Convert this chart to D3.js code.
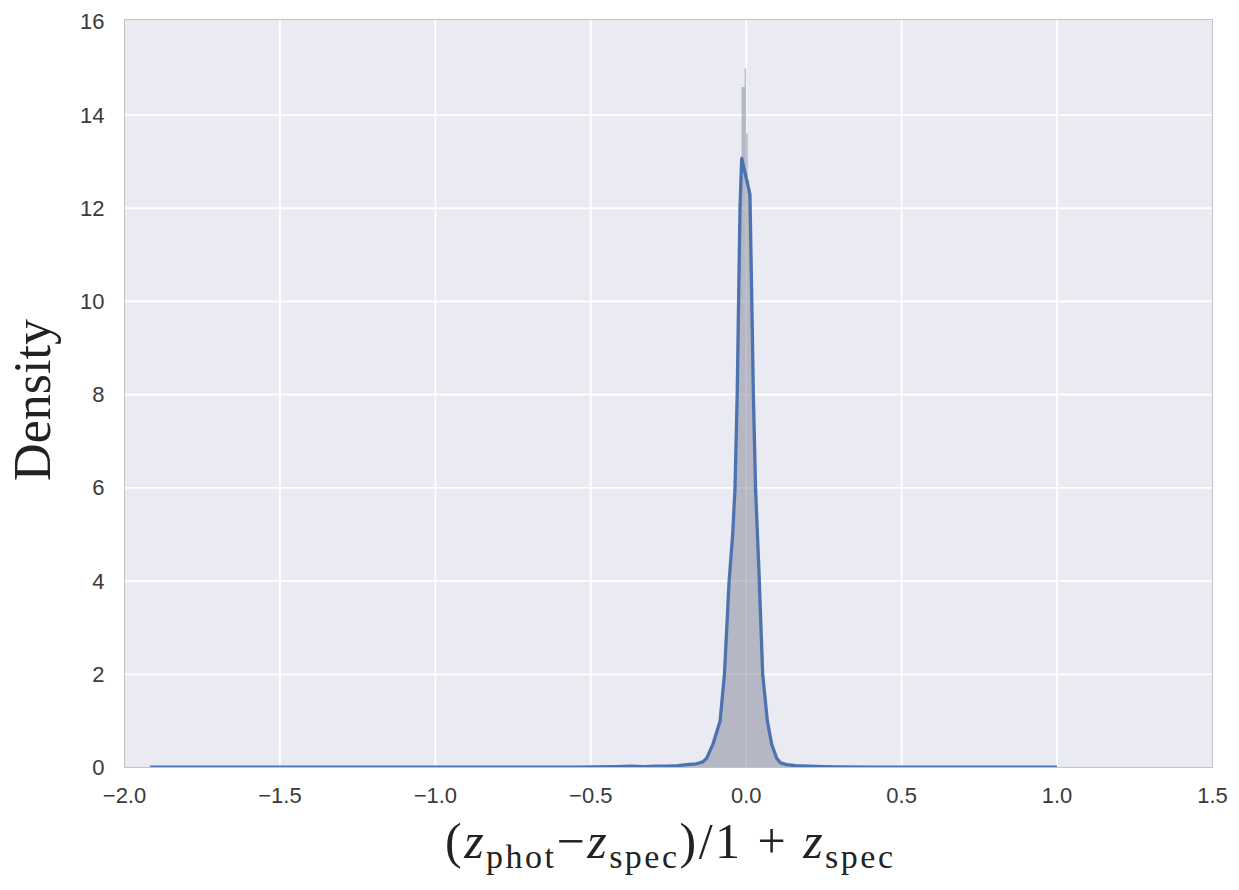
<!DOCTYPE html>
<html>
<head>
<meta charset="utf-8">
<script src="https://cdn.jsdelivr.net/npm/d3@7"></script>
<style>
  html, body { margin: 0; padding: 0; background: #ffffff; }
  svg { display: block; }
</style>
</head>
<body>
<svg id="chart" width="1239" height="890"></svg>
<script>
// Tick positions on both axes
const xTicks = [-2.0, -1.5, -1.0, -0.5, 0.0, 0.5, 1.0, 1.5];
const yTicks = [0, 2, 4, 6, 8, 10, 12, 14, 16];

// Normalised histogram of (z_phot - z_spec)/(1 + z_spec): first bin edge, bin width, densities
const histBinStart = -0.200;
const histBinWidth = 0.005;
const histDensity = [
  0.04, 0.03, 0.05, 0.04, 0.06, 0.05, 0.07, 0.08, 0.08, 0.10,
  0.11, 0.12, 0.15, 0.17, 0.22, 0.27, 0.33, 0.40, 0.47, 0.58,
  0.68, 0.80, 0.92, 1.10, 1.35, 1.70, 2.20, 2.80, 3.40, 4.00,
  4.50, 5.00, 5.60, 6.50, 8.00, 10.2, 12.3, 14.6, 14.6, 15.0,
  13.6, 12.6, 11.8, 10.0, 8.50, 7.20, 6.00, 5.00, 4.20, 3.30,
  2.40, 1.80, 1.40, 1.10, 0.85, 0.65, 0.50, 0.38, 0.28, 0.20,
  0.15, 0.11, 0.09, 0.07, 0.06, 0.05, 0.05, 0.04, 0.03, 0.03
];

// Kernel density estimate: evaluation points and density values
const kdeX = [
  -1.918, -1.60, -1.20, -0.80, -0.55, -0.42, -0.37, -0.33, -0.29, -0.25,
  -0.22, -0.19, -0.16, -0.14, -0.127, -0.107, -0.084, -0.070, -0.055, -0.0435,
  -0.036, -0.029, -0.020, -0.0145, 0.012, 0.018, 0.023, 0.030, 0.041, 0.053,
  0.068, 0.082, 0.098, 0.110, 0.130, 0.160, 0.200, 0.250, 0.300, 0.400,
  0.600, 0.800, 1.000
];
const kdeY = [
  0.010, 0.005, 0.005, 0.005, 0.010, 0.020, 0.030, 0.020, 0.030, 0.030,
  0.040, 0.060, 0.080, 0.120, 0.20, 0.50, 1.00, 2.00, 4.00, 5.00,
  6.00, 8.00, 12.0, 13.07, 12.3, 10.0, 8.00, 6.00, 4.20, 2.00,
  1.00, 0.50, 0.20, 0.10, 0.060, 0.040, 0.030, 0.020, 0.015, 0.010,
  0.005, 0.005, 0.010
];

const svg = d3.select("#chart");
const plot = { left: 124.5, top: 19.5, right: 1212.5, bottom: 767.5 };

const x = d3.scaleLinear().domain([-2.0, 1.5]).range([plot.left, plot.right]);
const y = d3.scaleLinear().domain([0, 16.05]).range([plot.bottom, plot.top]);

// Axes background
svg.append("rect")
  .attr("x", plot.left).attr("y", plot.top)
  .attr("width", plot.right - plot.left).attr("height", plot.bottom - plot.top)
  .attr("fill", "#eaeaf2");

svg.append("clipPath").attr("id", "plot-clip")
  .append("rect")
  .attr("x", plot.left).attr("y", plot.top)
  .attr("width", plot.right - plot.left).attr("height", plot.bottom - plot.top);

// White grid lines
const grid = svg.append("g").attr("stroke", "#ffffff").attr("stroke-width", 1.8);
grid.selectAll("line.gx").data(xTicks.slice(1, -1)).join("line")
  .attr("x1", d => x(d)).attr("x2", d => x(d))
  .attr("y1", plot.top).attr("y2", plot.bottom);
grid.selectAll("line.gy").data(yTicks.slice(1, -1)).join("line")
  .attr("x1", plot.left).attr("x2", plot.right)
  .attr("y1", d => y(d)).attr("y2", d => y(d));

const layer = svg.append("g").attr("clip-path", "url(#plot-clip)");

// Histogram drawn as one stepped outline so adjacent bins do not leave seams
const bins = histDensity.map((h, i) => ({
  x0: histBinStart + i * histBinWidth,
  x1: histBinStart + (i + 1) * histBinWidth,
  h: h
}));
const histPath = d3.path();
histPath.moveTo(x(bins[0].x0), y(0));
bins.forEach(b => {
  histPath.lineTo(x(b.x0), y(b.h));
  histPath.lineTo(x(b.x1), y(b.h));
});
histPath.lineTo(x(bins[bins.length - 1].x1), y(0));
histPath.closePath();
layer.append("path")
  .attr("d", histPath.toString())
  .attr("fill", "#7f8596")
  .attr("fill-opacity", 0.5)
  .attr("stroke", "none");

// KDE curve
const kdeLine = d3.line()
  .x(d => x(d[0]))
  .y(d => y(d[1]));
layer.append("path")
  .datum(kdeX.map((v, i) => [v, kdeY[i]]))
  .attr("d", kdeLine)
  .attr("fill", "none")
  .attr("stroke", "#4c72b0")
  .attr("stroke-width", 3.3)
  .attr("stroke-linejoin", "round");

// Thin frame round the axes
svg.append("rect")
  .attr("x", plot.left).attr("y", plot.top)
  .attr("width", plot.right - plot.left).attr("height", plot.bottom - plot.top)
  .attr("fill", "none").attr("stroke", "#c4c4c8").attr("stroke-width", 1);

// Tick labels
const tickFont = "'Liberation Sans', Arial, sans-serif";
const fmtX = d3.format(".1f");
svg.append("g").selectAll("text").data(xTicks).join("text")
  .attr("x", d => x(d)).attr("y", 803)
  .attr("text-anchor", "middle")
  .attr("font-family", tickFont).attr("font-size", 22)
  .attr("fill", "#3a3a3a")
  .text(d => fmtX(d));
svg.append("g").selectAll("text").data(yTicks).join("text")
  .attr("x", plot.left - 20).attr("y", d => y(d))
  .attr("dy", "0.34em")
  .attr("text-anchor", "end")
  .attr("font-family", tickFont).attr("font-size", 22)
  .attr("fill", "#3a3a3a")
  .text(d => d);

// Axis titles in a serif face
const serif = "'Liberation Serif', 'DejaVu Serif', serif";
svg.append("text")
  .attr("transform", "translate(50,400) rotate(-90)")
  .attr("text-anchor", "middle")
  .attr("font-family", serif).attr("font-size", 52)
  .attr("fill", "#222222")
  .text("Density");

const xt = svg.append("text")
  .attr("x", 669).attr("y", 858)
  .attr("text-anchor", "middle")
  .attr("font-family", serif).attr("font-size", 50)
  .attr("fill", "#222222");
const parts = [
  { t: "(", s: "n" },
  { t: "z", s: "i" },
  { t: "phot", s: "sub" },
  { t: "\u2212", s: "n" },
  { t: "z", s: "i" },
  { t: "spec", s: "sub" },
  { t: ")/1 + ", s: "n" },
  { t: "z", s: "i" },
  { t: "spec", s: "sub" }
];
parts.forEach((p, i) => {
  const ts = xt.append("tspan").text(p.t);
  if (p.s === "i") ts.attr("font-style", "italic");
  const prev = parts[i - 1];
  if (p.s === "sub") ts.attr("font-size", 34).attr("dy", 10);
  else if (prev && prev.s === "sub") ts.attr("dy", -10);
});
// spread the formula to its full printed width
xt.attr("textLength", 448).attr("lengthAdjust", "spacing");
</script>
</body>
</html>
